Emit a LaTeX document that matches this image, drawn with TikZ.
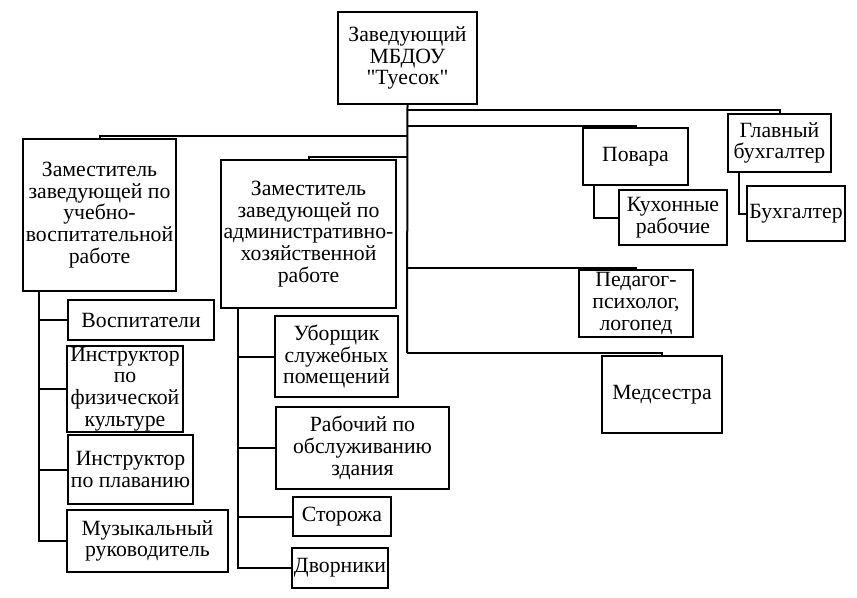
\documentclass[tikz,border=0pt]{standalone}
\usepackage{fontspec}
\setmainfont{Liberation Serif}
\newfontfamily\boxfont{Liberation Serif}
\usetikzlibrary{positioning}

\begin{document}
\begin{tikzpicture}[x=0.75pt, y=-0.75pt,
    box/.style={draw, line width=1.7pt, align=center, inner sep=0.5pt,
                font=\boxfont\fontsize{16.3}{16.3}\selectfont},
    sz/.style 2 args={minimum width=#1*0.75pt, minimum height=#2*0.75pt},
    link/.style={line width=1.5pt}]
   \useasboundingbox (0,0) rectangle (857,597);

   \node[box, sz={139}{92}] (head) at (407.5,58) {Заведующий\\МБДОУ\\"Туесок"};

   \node[box, sz={153}{152}] (uvr) at (99.5,215) {Заместитель\\заведующей по\\учебно-\\воспитательной\\работе};
   \node[box, sz={175}{148}] (ahr) at (308.5,234) {Заместитель\\заведующей по\\административно-\\хозяйственной\\работе};
   \node[box, sz={105}{57}] (povara) at (635.5,156.5) {Повара};
   \node[box, sz={108}{55}] (kuhnya) at (673,217.5) {Кухонные\\рабочие};
   \node[box, sz={103}{58}] (glbuh) at (779.5,143) {Главный\\бухгалтер};
   \node[box, sz={98}{55}] (buh) at (796,213.5) {Бухгалтер};
   \node[box, sz={114}{67}] (psych) at (636,303.5) {Педагог-\\психолог,\\логопед};
   \node[box, sz={120}{77}] (med) at (662,394.5) {Медсестра};

   \node[box, sz={146}{40}] (vosp) at (141,320) {Воспитатели};
   \node[box, sz={116}{86}] (fizra) at (125,389) {Инструктор\\по\\физической\\культуре};
   \node[box, sz={125}{69}] (plav) at (130.5,469.5) {Инструктор\\по плаванию};
   \node[box, sz={161}{62}] (muz) at (147.5,541) {Музыкальный\\руководитель};

   \node[box, sz={123}{81}] (uborsh) at (336.5,356.5) {Уборщик\\служебных\\помещений};
   \node[box, sz={173}{82}] (rab) at (362.5,448) {Рабочий по\\обслуживанию\\здания};
   \node[box, sz={98}{39}] (storozh) at (342,516.5) {Сторожа};
   \node[box, sz={96}{40}] (dvor) at (340,568) {Дворники};

   \coordinate (trunk) at (407,353);
   \coordinate (uvrline) at (39,0);
   \coordinate (ahrline) at (238,0);
   \coordinate (kline) at (594,0);
   \coordinate (bline) at (739,0);

   \draw[link] (head.south) -- (trunk);
   \draw[link] (head.south |- 0,110) -| (glbuh.north);
   \draw[link] (head.south |- 0,126) -| (povara.north);
   \draw[link] (head.south |- 0,136) -| (uvr.north);
   \draw[link] (head.south |- 0,157) -| (ahr.north);
   \draw[link] (head.south |- 0,268) -| (psych.north);
   \draw[link] (trunk) -| (med.north);

   \draw[link] (povara.south -| kline) |- (kuhnya.west);
   \draw[link] (glbuh.south -| bline) |- (buh.west);

   \draw[link] (uvr.south -| uvrline) |- (muz.west);
   \foreach \n in {vosp, fizra, plav}
      \draw[link] (\n.west -| uvrline) -- (\n.west);

   \draw[link] (ahr.south -| ahrline) |- (dvor.west);
   \foreach \n in {uborsh, rab, storozh}
      \draw[link] (\n.west -| ahrline) -- (\n.west);
\end{tikzpicture}
\end{document}
